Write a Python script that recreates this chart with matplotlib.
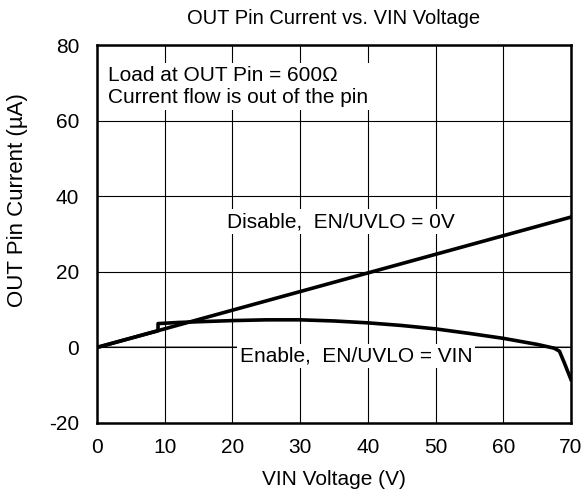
import matplotlib
matplotlib.use("Agg")
import matplotlib.pyplot as plt

plt.rcParams['font.family'] = ['Liberation Sans', 'DejaVu Sans']
plt.rcParams['axes.unicode_minus'] = False

# disable: straight line through origin
vin_disable = [0, 70]
i_disable = [0, 34.5]

# enable curve
vin_enable = [0, 9, 9, 12, 15, 20, 25, 30, 35, 40, 45, 50, 55, 60, 65, 67.5, 68.3, 69, 70]
i_enable = [0, 4.4, 6.3, 6.6, 6.8, 7.1, 7.3, 7.3, 7.0, 6.5, 5.8, 4.9, 3.7, 2.4, 0.8, -0.2, -1.0, -4.0, -8.5]

fig = plt.figure(figsize=(5.85, 4.97), dpi=100)
ax = fig.add_axes([0.166, 0.149, 0.81, 0.76])

ax.plot(vin_disable, i_disable, color='black', lw=2.6, zorder=3)
ax.plot(vin_enable, i_enable, color='black', lw=2.6, zorder=3)

ax.set_xlim(0, 70)
ax.set_ylim(-20, 80)
ax.set_xticks(range(0, 71, 10))
ax.set_yticks(range(-20, 81, 20))
ax.grid(True, color='black', lw=0.8)
ax.axhline(0, color='#808080', lw=1.2, zorder=1)
ax.tick_params(direction='in', length=0, labelsize=15)
ax.tick_params(axis='x', pad=11)
ax.tick_params(axis='y', pad=13)
for s in ax.spines.values():
    s.set_linewidth(1.8)

ax.set_xlabel('VIN Voltage (V)', fontsize=15, labelpad=9)
ax.set_ylabel('OUT Pin Current (µA)', fontsize=16)
ax.yaxis.set_label_coords(-0.145, 0.59)
ax.set_title('OUT Pin Current vs. VIN Voltage', fontsize=14.5, pad=15)

box = dict(facecolor='white', edgecolor='none', pad=2)
ax.text(1.6, 74.5, 'Load at OUT Pin = 600Ω\nCurrent flow is out of the pin',
        fontsize=15, va='top', ha='left', linespacing=1.2, bbox=box, zorder=2)
ax.text(36, 33.3, 'Disable,  EN/UVLO = 0V', fontsize=15, ha='center', va='center', bbox=box, zorder=2)
ax.text(38.3, -2.2, 'Enable,  EN/UVLO = VIN', fontsize=15, ha='center', va='center', bbox=box, zorder=2)

fig.savefig('out.png', dpi=100)
